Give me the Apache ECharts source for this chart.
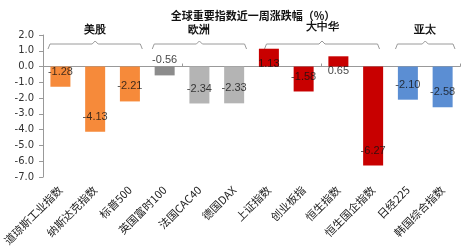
<!DOCTYPE html>
<html><head><meta charset="utf-8">
<script src="https://cdn.jsdelivr.net/npm/echarts@6/dist/echarts.min.js"></script>
<style>html,body{margin:0;padding:0;background:#fff}#c{width:467px;height:252px}</style>
</head><body><div id="c"></div>
<script>
const categories = ['道琼斯工业指数','纳斯达克指数','标普500','英国富时100','法国CAC40','德国DAX','上证指数','创业板指','恒生指数','恒生国企指数','日经225','韩国综合指数'];
const values = [-1.28,-4.13,-2.21,-0.56,-2.34,-2.33,1.13,-1.58,0.65,-6.27,-2.10,-2.58];
const barColors = ['#F68A3A','#F68A3A','#F68A3A','#8C8C8C','#B4B4B4','#B4B4B4','#C80000','#C80000','#C80000','#C80000','#5B8ED3','#5B8ED3'];
const groups = [['美股',0,2],['欧洲',3,5],['大中华',6,9],['亚太',10,11]];
const yTicks = {min:-7, max:2, interval:1};
const title = '全球重要指数近一周涨跌幅（%）';

const chart = echarts.init(document.getElementById('c'));
const font = '"Noto Sans CJK SC", sans-serif';
chart.setOption({
  animation:false,
  title:{text:title,left:248,top:5,textAlign:'center',textStyle:{fontSize:11,fontWeight:'bold',color:'#111',fontFamily:font}},
  grid:{left:42,right:7,top:35,bottom:75},
  xAxis:[
    {type:'category',data:categories,position:'bottom',
     axisLine:{onZero:true,lineStyle:{color:'#999',width:1}},
     axisTick:{show:true,inside:true,length:3,lineStyle:{color:'#999'}},
     axisLabel:{show:false}},
    {type:'category',data:categories,position:'bottom',
     axisLine:{show:false,onZero:false},axisTick:{show:false},
     axisLabel:{rotate:45,interval:0,fontSize:11,color:'#222',margin:11,fontFamily:font}}
  ],
  yAxis:{type:'value',min:yTicks.min,max:yTicks.max,interval:yTicks.interval,
    axisLine:{show:true,lineStyle:{color:'#999'}},
    axisTick:{show:true,length:4,lineStyle:{color:'#999'}},
    splitLine:{show:false},
    axisLabel:{formatter:v=>v.toFixed(1),fontSize:10,color:'#333',margin:9,fontFamily:'"DejaVu Sans", sans-serif'}},
  series:[
    {type:'bar',xAxisIndex:0,barWidth:20,
     data:values.map((v,i)=>({value:v,itemStyle:{color:barColors[i]}}))},
    {type:'scatter',xAxisIndex:0,symbolSize:0,silent:true,
     data:values.map(v=>({value:v,label:{offset:[0,v<0?-15:15]}})),
     label:{show:true,position:'inside',formatter:p=>p.value.toFixed(2),fontSize:11,color:'#111',fontFamily:'"Liberation Sans", sans-serif'}}
  ]
});

function drawBrackets(){
  const g=[];
  const yLine=44;
  groups.forEach(([name,a,b],k)=>{
    const xa=chart.convertToPixel({xAxisIndex:0},a);
    const xb=chart.convertToPixel({xAxisIndex:0},b);
    const half=17.4;
    const x1=xa-half+5+(k===2?8:0), x2=xb+half-5-(k===2?6:0);
    const xm=(x1+x2)/2;
    g.push({type:'polyline',shape:{points:[[x1,yLine+5],[x1+2,yLine],[xm-3,yLine],[xm,yLine-3],[xm+3,yLine],[x2-2,yLine],[x2,yLine+5]]},
      style:{stroke:'#9a9a9a',lineWidth:1,fill:null},silent:true});
    g.push({type:'text',x:xm,y:k===2?21:24,style:{text:name,fontSize:11,fontWeight:'bold',fill:'#111',textAlign:'center',font:'bold 11px "Noto Sans CJK SC", sans-serif'},silent:true});
  });
  chart.setOption({graphic:g});
}
drawBrackets();
</script></body></html>
